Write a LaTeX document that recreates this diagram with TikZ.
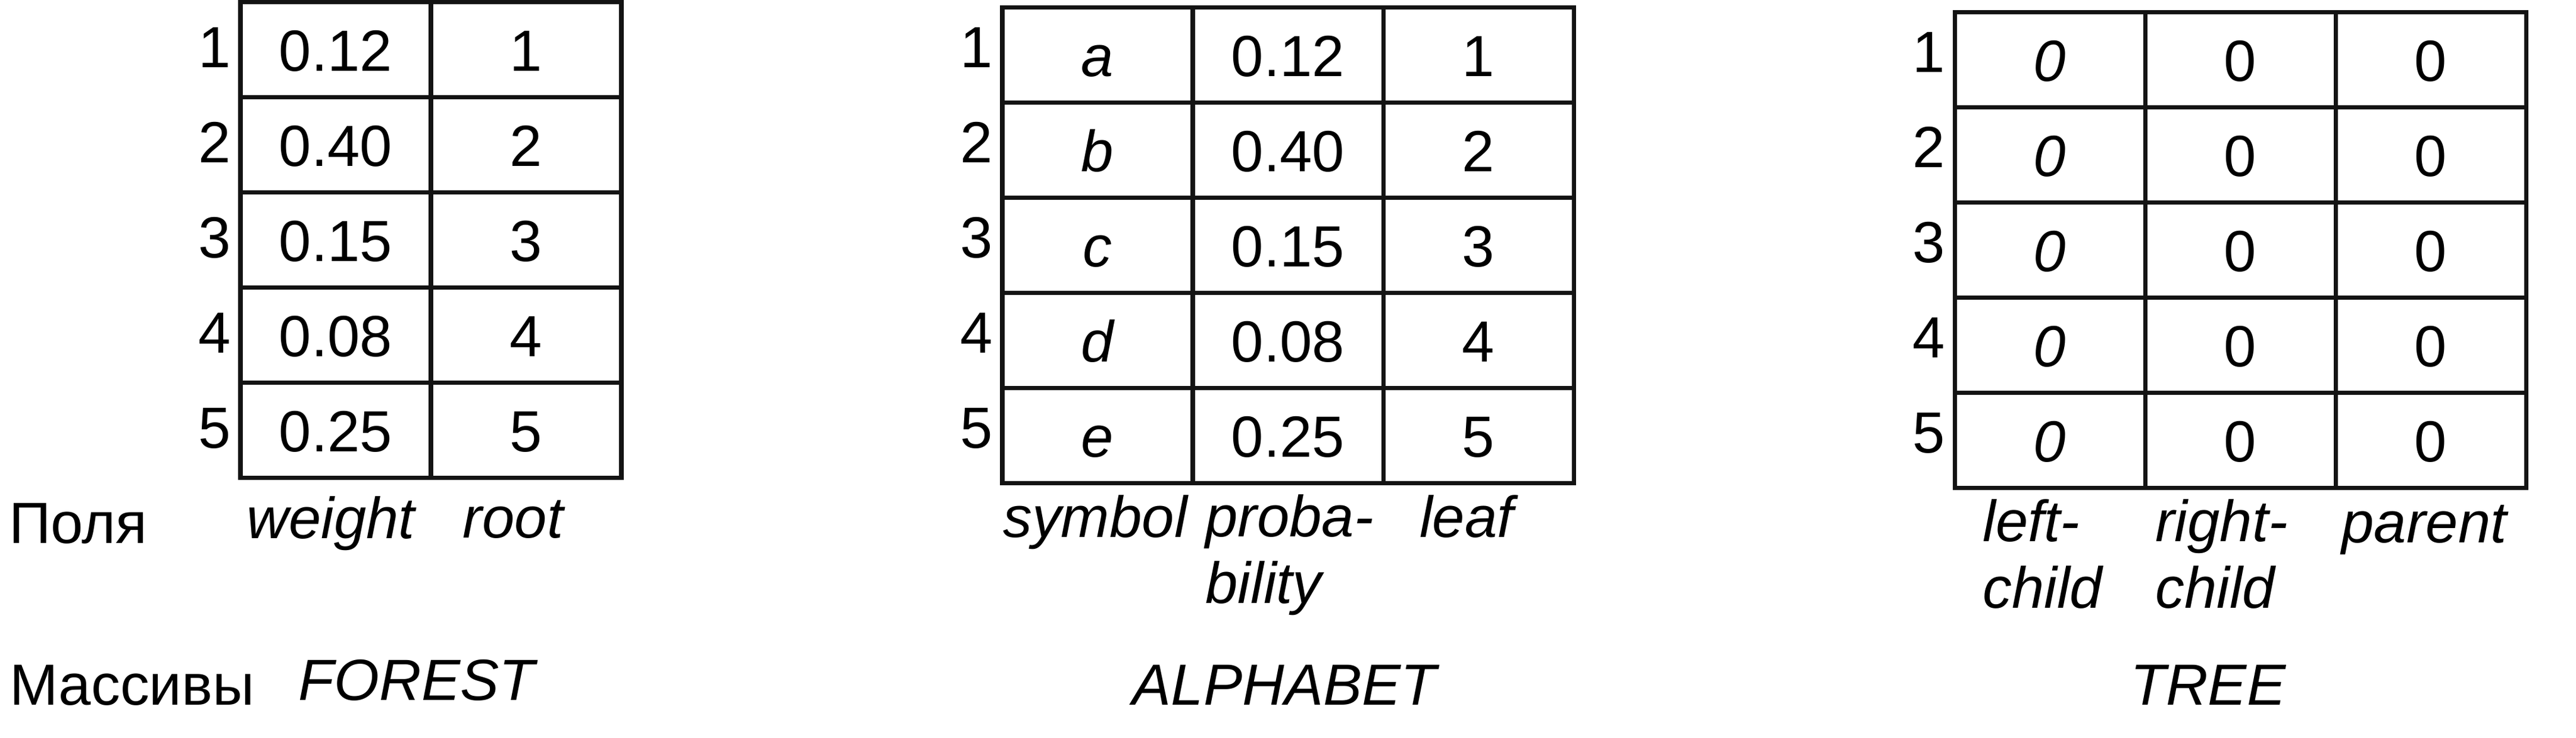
\documentclass[tikz,border=0pt]{standalone}
\usepackage{fontspec}
\setmainfont{Liberation Sans}

\definecolor{rule}{RGB}{19,19,19}
\newcommand\labelsize{\fontsize{13.9}{15.8}\selectfont}

\tikzset{
    cell/.style={draw=rule, line width=1pt, minimum width=1.6cm, minimum height=0.8cm,
            inner sep=0pt, text height=0.36cm, text depth=0pt, font=\labelsize},
    icell/.style={cell, font=\labelsize\itshape},
    rownum/.style={anchor=base east, inner sep=0pt, font=\labelsize},
    field/.style={anchor=base, inner sep=0pt, font=\labelsize\itshape},
    fieldtwo/.style={anchor=base west, inner sep=0pt, align=left, font=\labelsize\itshape}, % base = last line
    arrname/.style={anchor=base, inner sep=0pt, font=\labelsize\itshape},
    caption/.style={anchor=base west, inner sep=0pt, font=\labelsize}
}

\begin{document}
\begin{tikzpicture}
    \useasboundingbox (0,0) rectangle (21.64,-6.2);

    \node[caption] (fields) at (0.07,-4.565) {Поля};
    \node[caption] (arrays) at (0.075,-5.925) {Массивы};

    % FOREST
    \begin{scope}[shift={(2.02,-0.0175)}]
        \foreach \r/\w in {1/0.12,2/0.40,3/0.15,4/0.08,5/0.25}{      % one row of the array
                \node[rownum] (forest-n\r) at (-0.075,0.4-0.8*\r-0.1475) {\r};
                \node[cell] (forest-\r-1) at (0.8,0.4-0.8*\r) {\w};
                \node[cell] (forest-\r-2) at (2.4,0.4-0.8*\r) {\r};
            }
        \node[field] (forest-weight) at (0.76,-4.5075) {weight};
        \node[field] (forest-root) at (2.29,-4.5025) {root};
        \node[arrname] (forest-name) at (1.48,-5.8675) {FOREST};
    \end{scope}

    % ALPHABET
    \begin{scope}[shift={(8.42,-0.06)}]
        \foreach \r/\s/\p in {1/a/0.12,2/b/0.40,3/c/0.15,4/d/0.08,5/e/0.25}{
                \node[rownum] (alphabet-n\r) at (-0.075,0.4-0.8*\r-0.105) {\r};
                \node[icell] (alphabet-\r-1) at (0.8,0.4-0.8*\r) {\s};
                \node[cell] (alphabet-\r-2) at (2.4,0.4-0.8*\r) {\p};
                \node[cell] (alphabet-\r-3) at (4.0,0.4-0.8*\r) {\r};
            }
        \node[field] (alphabet-symbol) at (0.78,-4.455) {symbol};
        \node[fieldtwo] (alphabet-prob) at (1.70,-5.01) {proba-\\bility};
        \node[field] (alphabet-leaf) at (3.90,-4.455) {leaf};
        \node[arrname] (alphabet-name) at (2.37,-5.865) {ALPHABET};
    \end{scope}

    % TREE
    \begin{scope}[shift={(16.42,-0.10)}]
        \foreach \r in {1,...,5}{                                   % all links still empty
                \node[rownum] (tree-n\r) at (-0.075,0.4-0.8*\r-0.105) {\r};
                \node[icell] (tree-\r-1) at (0.8,0.4-0.8*\r) {0};
                \node[cell] (tree-\r-2) at (2.4,0.4-0.8*\r) {0};
                \node[cell] (tree-\r-3) at (4.0,0.4-0.8*\r) {0};
            }
        \node[fieldtwo] (tree-left) at (0.23,-5.01) {left-\\child};
        \node[fieldtwo] (tree-right) at (1.68,-5.01) {right-\\child};
        \node[field] (tree-parent) at (3.945,-4.46) {parent};
        \node[arrname] (tree-name) at (2.13,-5.825) {TREE};
    \end{scope}
\end{tikzpicture}
\end{document}
